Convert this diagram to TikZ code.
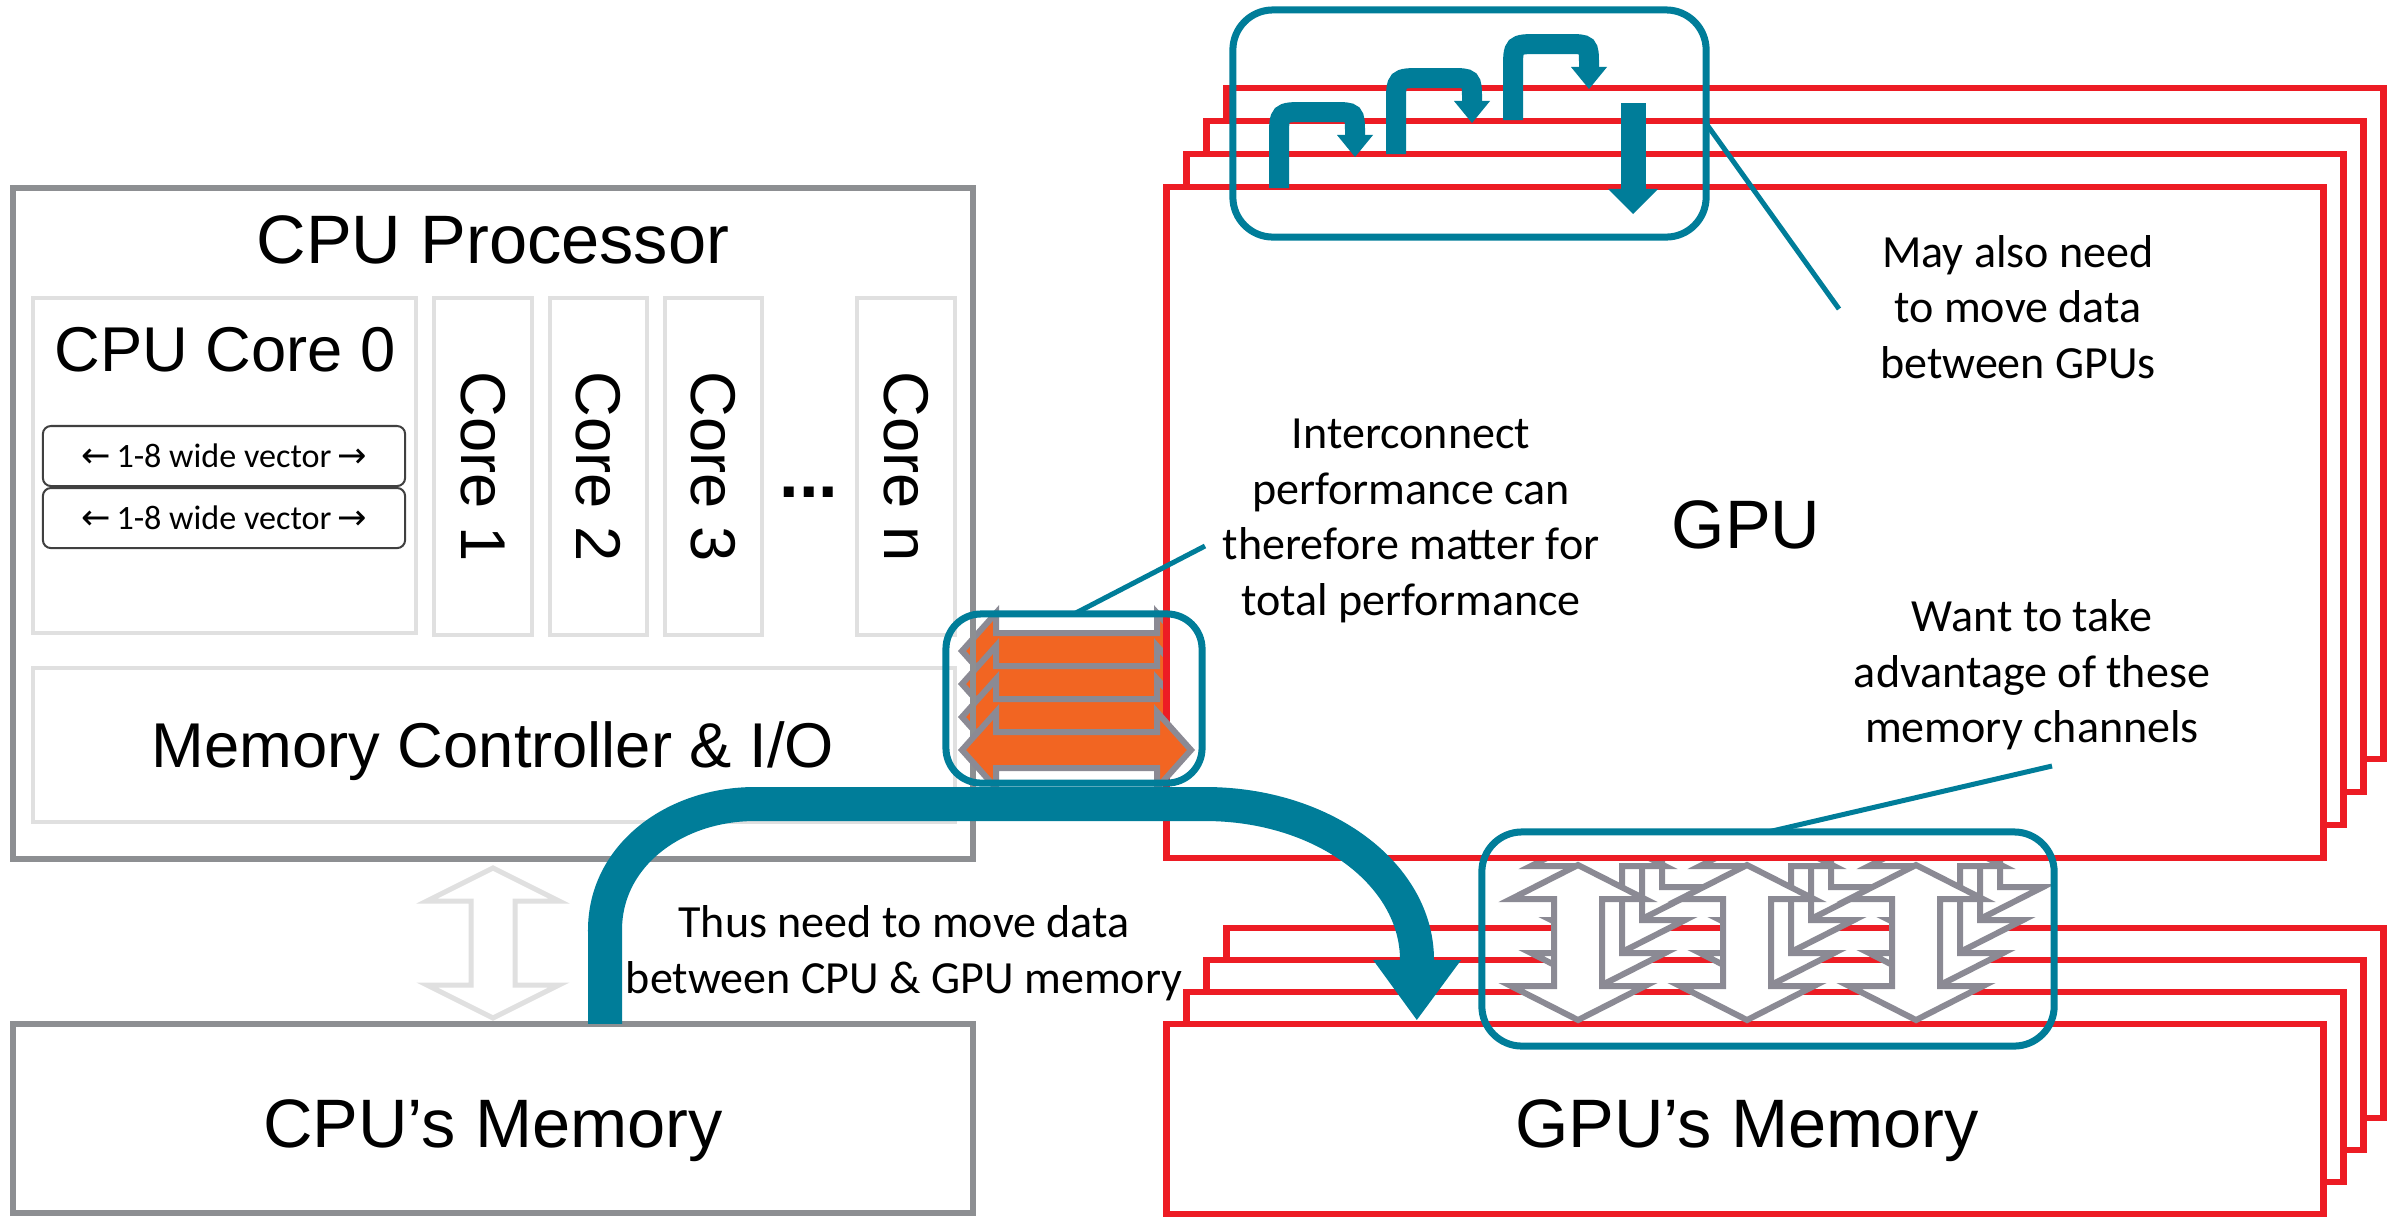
\documentclass[tikz,border=0pt]{standalone}
\usepackage{fontspec}
\setmainfont{Liberation Sans}
\newfontfamily\callfont{Carlito}
\newfontfamily\symfont{DejaVu Sans}
\usepackage{tikz}
\usetikzlibrary{arrows.meta,positioning}

\definecolor{tealblue}{RGB}{0,125,153}
\definecolor{gpured}{RGB}{237,28,36}
\definecolor{linkorange}{RGB}{242,101,34}
\definecolor{edgegray}{RGB}{139,138,148}
\definecolor{cpugray}{RGB}{141,143,146}
\definecolor{palegray}{RGB}{224,224,224}

% double headed block arrows as closed paths
% vertical: centre x, top tip, bottom tip, half body, half head, head length
\newcommand{\biarrowv}[6]{(#1,#2) -- ++(#5,#6) -- ++({#4-#5},0) -- ({#1+#4},{#3-#6}) -- ++({#5-#4},0) -- (#1,#3) -- ++({-#5},{-#6}) -- ++({#5-#4},0) -- ({#1-#4},{#2+#6}) -- ++({#4-#5},0) -- cycle}
% horizontal: centre y, left tip, right tip, half body, half head, head length
\newcommand{\biarrowh}[6]{(#2,#1) -- ++(#6,{-#5}) -- ++(0,{#5-#4}) -- ({#3-#6},{#1-#4}) -- ++(0,{#4-#5}) -- (#3,#1) -- ++({-#6},#5) -- ++(0,{#4-#5}) -- ({#2+#6},{#1+#4}) -- ++(0,{#5-#4}) -- cycle}
% vector width label
\newcommand{\veclabel}{{\symfont\fontsize{10}{12}\selectfont ←}\,1-8 wide vector\,{\symfont\fontsize{10}{12}\selectfont →}}

\tikzset{
    %Define style for the CPU side boxes
    cpubox/.style={
           draw=cpugray, line width=0.06cm,
           inner sep=0pt, outer sep=0pt},
    corebox/.style={
           draw=palegray, line width=0.04cm,
           inner sep=0pt, outer sep=0pt},
    vecbox/.style={
           draw=black!75, line width=0.02cm,
           rounded corners=0.08cm,
           minimum width=3.62cm, minimum height=0.6cm,
           inner sep=0pt, outer sep=0pt,
           font=\callfont\fontsize{9.7}{12}\selectfont},
    % Define style for the stacked GPU boxes
    gpulayer/.style={
           draw=gpured, fill=white, line width=0.065cm,
           minimum width=11.56cm, minimum height=6.71cm,
           outer sep=0pt},
    memlayer/.style={gpulayer, minimum height=1.9cm},
    % Define highlight frames and notes
    tealframe/.style={
           draw=tealblue, line width=0.07cm,
           rounded corners=0.4cm, outer sep=0pt},
    noteline/.style={draw=tealblue, line width=0.05cm},
    calltext/.style={
           font=\callfont\fontsize{13.1}{15.8}\selectfont,
           align=center, inner sep=0pt},
    bigtext/.style={font=\fontsize{19.5}{23}\selectfont, inner sep=0pt, anchor=base},
    midtext/.style={font=\fontsize{18}{22}\selectfont, inner sep=0pt},
    % Define teal data movement arrows
    hopflow/.style={
           draw=tealblue, line width=0.2cm,
           -{Triangle[width=0.36cm,length=0.22cm,line width=0pt]}},
    dropflow/.style={
           draw=tealblue, line width=0.25cm,
           -{Triangle[width=0.5cm,length=0.25cm,line width=0pt]}},
    bigflow/.style={
           draw=tealblue, line width=0.34cm,
           -{Triangle[width=0.88cm,length=0.6cm,line width=0pt]}},
    % Define block arrow styles
    linkarrow/.style={fill=linkorange, draw=edgegray, line width=0.06cm},
    chanarrow/.style={fill=white, draw=edgegray, line width=0.06cm},
    busarrow/.style={fill=white, draw=palegray, line width=0.05cm}
}

\begin{document}
\begin{tikzpicture}[x=0.01cm, y=-0.01cm]

 \path[use as bounding box, fill=white] (0,0) rectangle (2391,1217);

 % GPU memory stack
 \foreach \k in {3,2,1}
   \node[memlayer] (gpumem\k) at ({1745+20*\k},{1119-32*\k}) {};
 \node[memlayer] (gpumem0) at (1745,1119) {};

 % memory channels
 \foreach \gx in {1578,1747,1916}
   \foreach \k in {3,2,1,0}
     \filldraw[chanarrow] \biarrowv{\gx+20*\k}{865-33*\k}{1020-33*\k}{24}{67}{34};

 % GPU stack
 \foreach \k in {3,2,1}
   \node[gpulayer] (gpu\k) at ({1745+20*\k},{522.5-33*\k}) {};
 \foreach \k in {3,2,1}
   \filldraw[linkarrow] \biarrowh{750-33*\k}{962}{1191}{18}{38}{34};
 \node[gpulayer] (gpu0) at (1745,522.5) {};

 % CPU side
 \node[cpubox, minimum width=9.6cm, minimum height=6.71cm] (cpu) at (493,523.5) {};
 \node[corebox, minimum width=3.83cm, minimum height=3.35cm] (core0) at (224.5,465.5) {};
 \node[vecbox] (vec1) at (224,456) {\veclabel};
 \node[vecbox, below=0.02cm of vec1] (vec2) {\veclabel};
 \foreach \cid/\cx in {1/483,2/598.5,3/713.5,n/906}
   \node[corebox, midtext, rotate=-90, minimum width=3.37cm, minimum height=0.97cm]
     (core\cid) at (\cx,466.5) {Core \cid};
 \node[midtext] (dots) at (809,492) {\bfseries\fontsize{20}{24}\selectfont ...};
 \node[corebox, minimum width=9.22cm, minimum height=1.54cm] (memctl) at (494,745) {};
 \node[cpubox, minimum width=9.6cm, minimum height=1.89cm] (cpumem) at (493,1118.5) {};
 \filldraw[busarrow] \biarrowv{493}{868}{1018}{22}{66}{33};

 \filldraw[linkarrow] \biarrowh{750}{962}{1191}{18}{38}{34};

 % highlight frames
 \node[tealframe, minimum width=4.73cm, minimum height=2.27cm] (gpulink) at (1469.5,123.5) {};
 \node[tealframe, rounded corners=0.35cm, minimum width=2.56cm, minimum height=1.69cm] (linkbox) at (1074,698.5) {};
 \node[tealframe, minimum width=5.72cm, minimum height=2.14cm] (chanbox) at (1768,939) {};

 \coordinate (mayend) at (1839,309);
 \coordinate (linkend) at (1205,546);
 \coordinate (chanend) at (2052,766);
 \draw[noteline] (gpulink.east) -- (mayend);
 \draw[noteline] (linkbox.north) -- (linkend);
 \draw[noteline] (chanbox.north) -- (chanend);

 % hops between GPUs
 \foreach \k in {0,1,2} {
   \pgfmathsetmacro{\hx}{1279+117*\k}
   \pgfmathsetmacro{\hy}{112-34*\k}
   \draw[hopflow] (\hx,\hy+76) -- (\hx,\hy+26) .. controls (\hx,\hy) .. (\hx+26,\hy)
     -- (\hx+54,\hy) .. controls (\hx+76,\hy) .. (\hx+76,\hy+22) -- (\hx+76,\hy+45);
 }
 \draw[dropflow] (1633,103) -- (1633,214);

 % CPU memory to GPU memory
 \draw[bigflow] ([xshift=1.12cm]cpumem.north) -- (605,930)
   .. controls (605,855) and (675,804) .. (755,804) -- (1205,804)
   .. controls (1323,804) and (1417,874) .. (1417,960)
   -- ([xshift=-3.28cm,yshift=0.04cm]gpumem0.north);

 % labels
 \node[bigtext] (cputitle) at (493,263) {CPU Processor};
 \node[midtext, anchor=base] (core0title) at (225,371) {CPU Core 0};
 \node[midtext, anchor=base] (memctltext) at (493,767) {Memory Controller \& I/O};
 \node[bigtext] (cpumemtext) at (493,1147) {CPU’s Memory};
 \node[bigtext] (gputext) at (1746,548) {GPU};
 \node[bigtext] (gpumemtext) at (1747,1147) {GPU’s Memory};

 \node[calltext] (mayneed) at (2018,307) {May also need\\to move data\\between GPUs};
 \node[calltext] (linknote) at (1411,521) {Interconnect\\performance can\\therefore matter for\\total performance};
 \node[calltext] (channote) at (2032,675) {Want to take\\advantage of these\\memory channels};
 \node[calltext] (movenote) at (904,953) {Thus need to move data\\between CPU \& GPU memory};

\end{tikzpicture}
\end{document}
